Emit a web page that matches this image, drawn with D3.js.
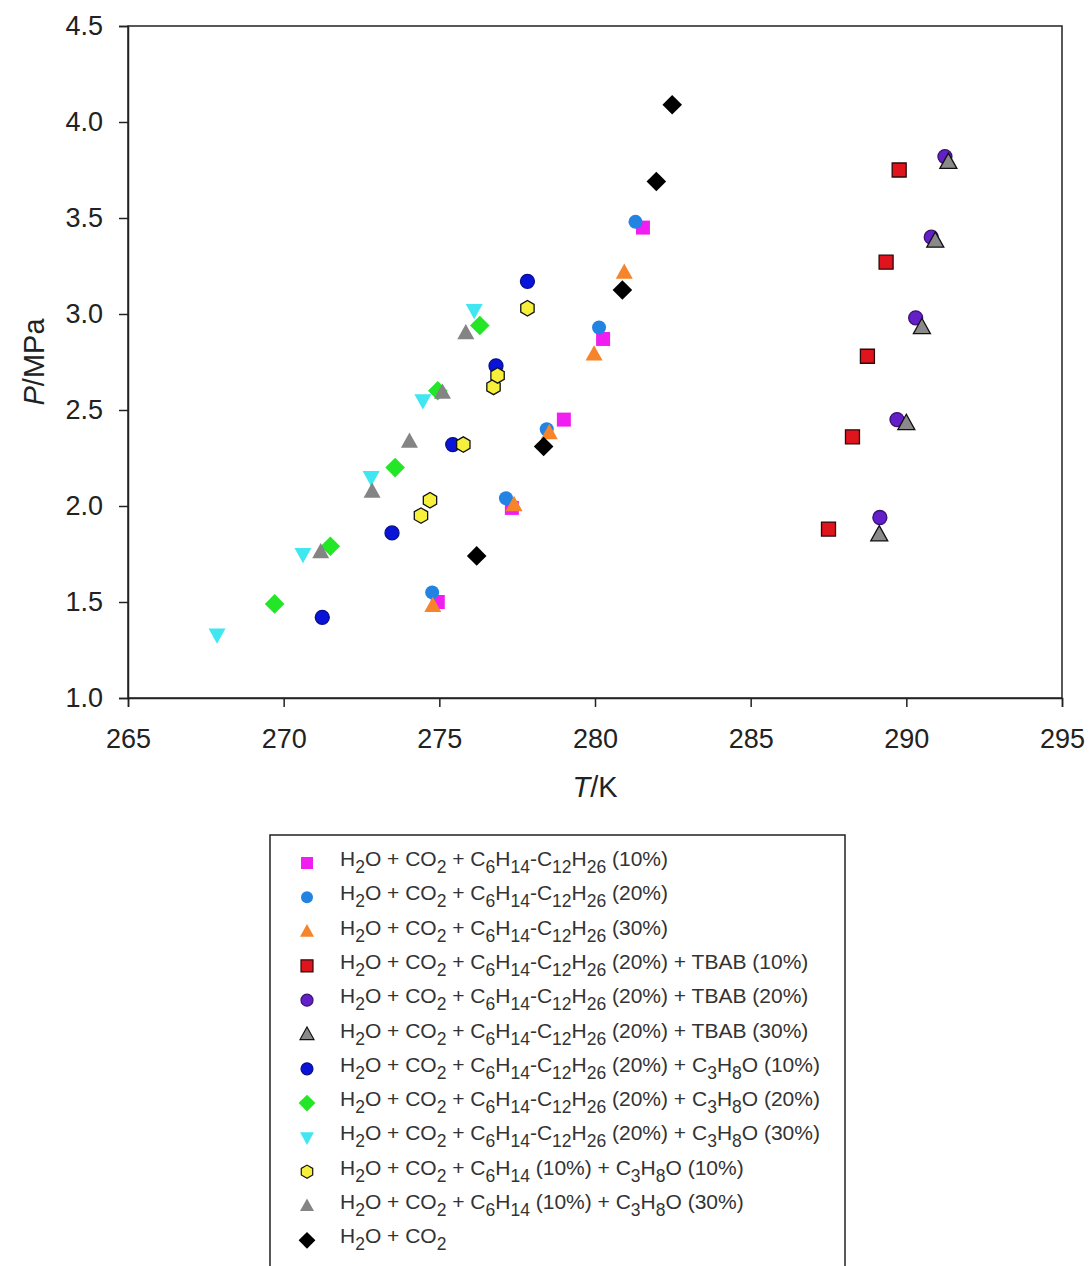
<!DOCTYPE html>
<html>
<head>
<meta charset="utf-8">
<script src="https://cdn.jsdelivr.net/npm/d3@7"></script>
<style>
    body { margin: 0; background: #fff; }
    svg { display: block; font-family: "Liberation Sans", Arial, sans-serif; }
</style>
</head>
<body>
<svg id="chart" width="1089" height="1266"></svg>
<script>
// series labels, in legend order
var seriesNames = [
    "H2O + CO2 + C6H14-C12H26 (10%)",
    "H2O + CO2 + C6H14-C12H26 (20%)",
    "H2O + CO2 + C6H14-C12H26 (30%)",
    "H2O + CO2 + C6H14-C12H26 (20%) + TBAB (10%)",
    "H2O + CO2 + C6H14-C12H26 (20%) + TBAB (20%)",
    "H2O + CO2 + C6H14-C12H26 (20%) + TBAB (30%)",
    "H2O + CO2 + C6H14-C12H26 (20%) + C3H8O (10%)",
    "H2O + CO2 + C6H14-C12H26 (20%) + C3H8O (20%)",
    "H2O + CO2 + C6H14-C12H26 (20%) + C3H8O (30%)",
    "H2O + CO2 + C6H14 (10%) + C3H8O (10%)",
    "H2O + CO2 + C6H14 (10%) + C3H8O (30%)",
    "H2O + CO2"
];

// [T/K, P/MPa]
var hc10 = [[274.95, 1.50], [277.33, 1.99], [279.0, 2.45], [280.26, 2.87], [281.54, 3.45]];
var hc20 = [[274.77, 1.55], [277.14, 2.04], [278.45, 2.40], [280.13, 2.93], [281.3, 3.48]];
var hc30 = [[274.79, 1.48], [277.4, 2.005], [278.53, 2.38], [279.97, 2.79], [280.94, 3.215]];
var tbab10 = [[287.5, 1.88], [288.27, 2.36], [288.75, 2.78], [289.35, 3.27], [289.77, 3.75]];
var tbab20 = [[289.15, 1.94], [289.7, 2.45], [290.3, 2.98], [290.8, 3.40], [291.24, 3.82]];
var tbab30 = [[289.13, 1.85], [290.0, 2.43], [290.5, 2.93], [290.93, 3.38], [291.35, 3.79]];
var prop10 = [[271.24, 1.42], [273.48, 1.86], [275.43, 2.32], [276.82, 2.73], [277.83, 3.17]];
var prop20 = [[269.71, 1.49], [271.5, 1.79], [273.58, 2.20], [274.95, 2.60], [276.3, 2.94]];
var prop30 = [[267.86, 1.33], [270.62, 1.75], [272.81, 2.15], [274.47, 2.55], [276.12, 3.02]];
var hex10 = [[274.41, 1.95], [274.7, 2.03], [275.77, 2.32], [276.74, 2.62], [276.87, 2.68], [277.83, 3.03]];
var hex30 = [[271.19, 1.76], [272.84, 2.075], [274.04, 2.335], [275.1, 2.59], [275.85, 2.90]];
var pure = [[276.2, 1.74], [278.35, 2.31], [280.88, 3.125], [281.97, 3.69], [282.48, 4.09]];

var xTicks = [265, 270, 275, 280, 285, 290, 295];
var yTicks = [1.0, 1.5, 2.0, 2.5, 3.0, 3.5, 4.0, 4.5];

var seriesData = [hc10, hc20, hc30, tbab10, tbab20, tbab30, prop10, prop20, prop30, hex10, hex30, pure];

// marker style per series
var styles = [
    {shape: "square", fill: "#f01ef0", stroke: "none"},
    {shape: "circle", fill: "#2283e2", stroke: "none"},
    {shape: "triangle", fill: "#f5842a", stroke: "none"},
    {shape: "square", fill: "#e0141c", stroke: "#2a0a0a"},
    {shape: "circle", fill: "#6420c8", stroke: "#3a1270"},
    {shape: "triangle", fill: "#8a8a8a", stroke: "#111"},
    {shape: "circle", fill: "#0a14d8", stroke: "#06108a"},
    {shape: "diamond", fill: "#22e626", stroke: "none"},
    {shape: "triangleDown", fill: "#40e6f0", stroke: "none"},
    {shape: "hexagon", fill: "#f6f03c", stroke: "#111"},
    {shape: "triangle", fill: "#848484", stroke: "none"},
    {shape: "diamond", fill: "#000", stroke: "none"}
];

function markerPath(shape, s) {
    // s = nominal marker width in px
    switch (shape) {
        case "square":
            return d3.symbol(d3.symbolSquare, s * s)();
        case "circle":
            return d3.symbol(d3.symbolCircle, Math.PI * s * s / 4)();
        case "triangle":
            var h = s * 0.9;
            return "M0," + (-h * 0.6) + "L" + (s / 2) + "," + (h * 0.4) + "L" + (-s / 2) + "," + (h * 0.4) + "Z";
        case "triangleDown":
            var h2 = s * 0.9;
            return "M0," + (h2 * 0.6) + "L" + (s / 2) + "," + (-h2 * 0.4) + "L" + (-s / 2) + "," + (-h2 * 0.4) + "Z";
        case "diamond":
            var r = s * 0.7;
            return "M0," + (-r) + "L" + r + ",0L0," + r + "L" + (-r) + ",0Z";
        case "hexagon":
            var pts = [];
            for (var i = 0; i < 6; i++) {
                var a = Math.PI / 2 + i * Math.PI / 3;
                pts.push([Math.cos(a) * s * 0.55, Math.sin(a) * s * 0.55]);
            }
            return "M" + pts.join("L") + "Z";
    }
}

// split "C6H14" style text into normal/subscript pieces
function chemParts(txt) {
    var parts = [];
    var re = /([A-Za-z])(\d+)/g, last = 0, m;
    while ((m = re.exec(txt)) !== null) {
        parts.push({t: txt.slice(last, m.index + 1), sub: false});
        parts.push({t: m[2], sub: true});
        last = m.index + m[0].length;
    }
    parts.push({t: txt.slice(last), sub: false});
    return parts.filter(function (p) { return p.t.length > 0; });
}

var svg = d3.select("#chart");
var mLeft = 128, mRight = 1062, mTop = 26, mBottom = 698;

var x = d3.scaleLinear().domain([265, 295]).range([mLeft, mRight]);
var y = d3.scaleLinear().domain([1.0, 4.5]).range([mBottom, mTop]);

var axisColor = "#222";
var textColor = "#222";

// frame
svg.append("rect")
    .attr("x", mLeft).attr("y", mTop)
    .attr("width", mRight - mLeft).attr("height", mBottom - mTop)
    .attr("fill", "none").attr("stroke", axisColor).attr("stroke-width", 1.5);

var xAxis = svg.append("g")
    .attr("transform", "translate(0," + mBottom + ")")
    .call(d3.axisBottom(x).tickValues(xTicks).tickSize(9).tickPadding(22).tickFormat(d3.format("d")));
var yAxis = svg.append("g")
    .attr("transform", "translate(" + mLeft + ",0)")
    .call(d3.axisLeft(y).tickValues(yTicks).tickSize(9).tickPadding(16).tickFormat(d3.format(".1f")));

[xAxis, yAxis].forEach(function (g) {
    g.select(".domain").attr("stroke", axisColor).attr("stroke-width", 1.5);
    g.selectAll(".tick line").attr("stroke", axisColor).attr("stroke-width", 1.5);
    g.selectAll(".tick text")
        .attr("fill", textColor)
        .style("font-family", "\"Liberation Sans\", Arial, sans-serif")
        .style("font-size", "27px");
});

// axis titles
var xTitle = svg.append("text")
    .attr("x", (mLeft + mRight) / 2).attr("y", 797)
    .attr("text-anchor", "middle")
    .attr("fill", textColor)
    .style("font-size", "29px");
xTitle.append("tspan").attr("font-style", "italic").text("T");
xTitle.append("tspan").text("/K");

var yTitle = svg.append("text")
    .attr("transform", "translate(44," + ((mTop + mBottom) / 2) + ") rotate(-90)")
    .attr("text-anchor", "middle")
    .attr("fill", textColor)
    .style("font-size", "29px");
yTitle.append("tspan").attr("font-style", "italic").text("P");
yTitle.append("tspan").text("/MPa");

// points
var gpoints = svg.append("g").attr("class", "points");
seriesData.forEach(function (pts, i) {
    var st = styles[i];
    gpoints.append("g")
        .selectAll("path")
        .data(pts)
        .enter()
        .append("path")
        .attr("transform", function (d) {
            return "translate(" + x(d[0]) + "," + y(d[1]) + ")";
        })
        .attr("d", markerPath(st.shape, st.shape == "triangle" || st.shape == "triangleDown" ? 17 : 14))
        .attr("fill", st.fill)
        .attr("stroke", st.stroke)
        .attr("stroke-width", 1.3);
});

// legend
var legendX = 270, legendY = 835, rowH = 34.3, firstRow = 863;
svg.append("rect")
    .attr("x", legendX).attr("y", legendY)
    .attr("width", 575).attr("height", 480)
    .attr("fill", "#fff").attr("stroke", axisColor).attr("stroke-width", 1.5);

var rows = svg.append("g").attr("class", "legend")
    .selectAll("g")
    .data(seriesNames)
    .enter()
    .append("g")
    .attr("transform", function (d, i) {
        return "translate(0," + (firstRow + i * rowH) + ")";
    });

rows.append("path")
    .attr("transform", "translate(307,0)")
    .attr("d", function (d, i) {
        var st = styles[i];
        return markerPath(st.shape, st.shape == "triangle" || st.shape == "triangleDown" ? 14 : 12);
    })
    .attr("fill", function (d, i) { return styles[i].fill; })
    .attr("stroke", function (d, i) { return styles[i].stroke; })
    .attr("stroke-width", 1.2);

rows.each(function (name) {
    var t = d3.select(this).append("text")
        .attr("x", 340).attr("y", 3)
        .attr("fill", "#333")
        .style("font-size", "21px");
    var wasSub = false;
    chemParts(name).forEach(function (p) {
        var dy = p.sub ? 7 : (wasSub ? -7 : 0);
        t.append("tspan")
            .attr("dy", dy)
            .style("font-size", p.sub ? "17.5px" : null)
            .text(p.t);
        wasSub = p.sub;
    });
});
</script>
</body>
</html>
